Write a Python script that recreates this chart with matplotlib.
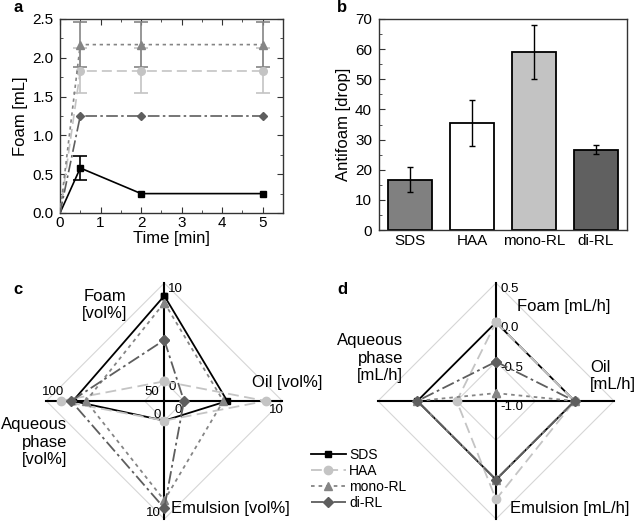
import numpy as np
import matplotlib
matplotlib.use("Agg")
import matplotlib.pyplot as plt
from matplotlib.ticker import MultipleLocator

plt.rcParams['font.family'] = ['Liberation Sans', 'DejaVu Sans']

# ---------------- data ----------------
series = ['SDS', 'HAA', 'mono-RL', 'di-RL']

# panel a: foam vs time
time_min = [0, 0.5, 2, 5]
foam_sds = [0, 0.58, 0.25, 0.25]
foam_sds_err = [0, 0.15, 0, 0]
foam_haa = [0, 1.83, 1.83, 1.83]
foam_haa_err = [0, 0.29, 0.29, 0.29]
foam_mono = [0, 2.17, 2.17, 2.17]
foam_mono_err = [0, 0.29, 0.29, 0.29]
foam_di = [0, 1.25, 1.25, 1.25]
foam_di_err = [0, 0, 0, 0]

# panel b: antifoam
antifoam = [16.7, 35.4, 59.0, 26.7]
antifoam_err = [4.2, 7.6, 8.9, 1.5]

# panel c: phase distribution [vol%]; axes: Foam, Oil, Emulsion, Aqueous
c_axis_min = [-2, -2, -2, 40]
c_axis_max = [10, 10, 10, 100]
c_ticks = [[0, 10], [0, 10], [0, 10], [50, 100]]
c_sds = [8.7, 4.4, 0.0, 86.5]
c_haa = [0.0, 8.3, 0.0, 92.7]
c_mono = [8.0, 4.0, 8.1, 79.8]
c_di = [4.2, 0.0, 8.9, 87.4]

# panel d: rates [mL/h]; axes: Foam, Oil, Emulsion, Aqueous
d_axis_min = [-1.0, -1.0, -1.0, -1.0]
d_axis_max = [0.5, 0.5, 0.5, 0.5]
d_ticks = [-1.0, -0.5, 0.0, 0.5]
d_sds = [0.0, 0.0, 0.0, 0.0]
d_haa = [0.0, 0.0, 0.25, -0.5]
d_mono = [-0.9, 0.0, 0.0, 0.0]
d_di = [-0.5, 0.0, 0.0, 0.0]

# ---------------- styles ----------------
colors = ['#000000', '#c4c4c4', '#858585', '#5e5e5e']
lstyles = ['-', (0, (6, 3)), (0, (2, 2.2)), (0, (7, 2, 1.5, 2))]
markers = ['s', 'o', '^', 'D']
msizes = [4.5, 6, 6, 5]

W, Hf = 638, 521
fig = plt.figure(figsize=(W / 100, Hf / 100), dpi=100)


def P(x, y):
    return x / W, 1 - y / Hf


spine_col = '#333333'

# ---------------- panel a ----------------
axa = fig.add_axes([60 / W, 1 - 213 / Hf, 223 / W, 194 / Hf])
ya = [foam_sds, foam_haa, foam_mono, foam_di]
ea = [foam_sds_err, foam_haa_err, foam_mono_err, foam_di_err]
for i in range(4):
    axa.plot(time_min, ya[i], color=colors[i], ls=lstyles[i], lw=1.2,
             marker=markers[i], ms=msizes[i] - 0.5, markevery=[1, 2, 3], zorder=3)
    t = np.array(time_min)
    y = np.array(ya[i])
    e = np.array(ea[i])
    m = e > 0
    if m.any():
        axa.errorbar(t[m], y[m], yerr=e[m], fmt='none', ecolor=colors[i],
                     elinewidth=1.2, capsize=4.8, capthick=1.2, zorder=2)
axa.set_xlim(0, 5.5)
axa.set_ylim(0, 2.5)
axa.xaxis.set_major_locator(MultipleLocator(1))
axa.xaxis.set_minor_locator(MultipleLocator(0.5))
axa.yaxis.set_major_locator(MultipleLocator(0.5))
axa.yaxis.set_minor_locator(MultipleLocator(0.25))
axa.tick_params(which='both', direction='in', top=True, right=True, color=spine_col)
axa.tick_params(which='major', length=4, labelsize=11)
axa.tick_params(which='minor', length=2)
axa.tick_params(axis='x', pad=2)
axa.tick_params(axis='y', pad=4.5)
axa.set_xlabel('Time [min]', fontsize=12, labelpad=1)
axa.set_ylabel('Foam [mL]', fontsize=12, labelpad=3)
for s in axa.spines.values():
    s.set_color(spine_col)
    s.set_linewidth(1.0)

# ---------------- panel b ----------------
axb = fig.add_axes([379 / W, 1 - 230 / Hf, 248 / W, 211 / Hf])
xb = np.arange(1, 5)
bar_cols = ['#808080', '#ffffff', '#c3c3c3', '#606060']
axb.bar(xb, antifoam, width=0.71, color=bar_cols, edgecolor='black', linewidth=1.3, zorder=2)
axb.errorbar(xb, antifoam, yerr=antifoam_err, fmt='none', ecolor='black',
             elinewidth=1.0, capsize=2.2, capthick=1.0, zorder=3)
axb.set_xlim(0.5, 4.5)
axb.set_ylim(0, 70)
axb.set_xticks(xb)
axb.set_xticklabels(series)
axb.yaxis.set_major_locator(MultipleLocator(10))
axb.yaxis.set_minor_locator(MultipleLocator(5))
axb.tick_params(which='both', direction='in', color=spine_col)
axb.tick_params(which='major', length=4, labelsize=11)
axb.tick_params(which='minor', length=2)
axb.tick_params(axis='x', pad=3)
axb.tick_params(axis='y', pad=5)
axb.set_ylabel('Antifoam [drop]', fontsize=12, labelpad=3)
for s in axb.spines.values():
    s.set_color(spine_col)
    s.set_linewidth(1.0)

# ---------------- radar helper ----------------
dirs = np.array([[0, 1], [1, 0], [0, -1], [-1, 0]], dtype=float)


def radar_axes(cx, cy, R, half=140):
    ax = fig.add_axes([(cx - half) / W, 1 - (cy + half) / Hf, 2 * half / W, 2 * half / Hf])
    lim = half / R
    ax.set_xlim(-lim, lim)
    ax.set_ylim(-lim, lim)
    ax.axis('off')
    return ax


def to_xy(vals, vmin, vmax):
    r = (np.array(vals, float) - np.array(vmin, float)) / (np.array(vmax, float) - np.array(vmin, float))
    pts = dirs * r[:, None]
    return np.vstack([pts, pts[:1]])


def draw_frame(ax, grid_r):
    for gr in grid_r:
        g = dirs * gr
        g = np.vstack([g, g[:1]])
        ax.plot(g[:, 0], g[:, 1], color='#d6d6d6', lw=0.8, zorder=1, clip_on=False)
    ax.plot([0, 0], [-1, 1], color='black', lw=1.5, zorder=2, clip_on=False)
    ax.plot([-1, 1], [0, 0], color='black', lw=1.5, zorder=2, clip_on=False)


def draw_series(ax, data, vmin, vmax):
    handles = []
    for i, vals in enumerate(data):
        xy = to_xy(vals, vmin, vmax)
        h, = ax.plot(xy[:, 0], xy[:, 1], color=colors[i], ls=lstyles[i], lw=1.3,
                     marker=markers[i], ms=msizes[i], zorder=3 + i, clip_on=False)
        handles.append(h)
    return handles


# ---------------- panel c ----------------
axc = radar_axes(164.3, 401, 118)
r0 = (0 - c_axis_min[0]) / (c_axis_max[0] - c_axis_min[0])
draw_frame(axc, [r0, 1.0])
handles = draw_series(axc, [c_sds, c_haa, c_mono, c_di], c_axis_min, c_axis_max)
lab_off = [((4, -6), 'left'), ((-6, -9), 'center'), ((-3, 6), 'right'), ((7, 9), 'center')]
for k in range(4):
    for tv in c_ticks[k]:
        r = (tv - c_axis_min[k]) / (c_axis_max[k] - c_axis_min[k])
        (dx, dy), ha = lab_off[k]
        axc.annotate(str(tv), xy=tuple(dirs[k] * r), xytext=(dx, dy), textcoords='offset pixels',
                     ha=ha, va='center', fontsize=9.5, annotation_clip=False)

fig.text(*P(105, 305), 'Foam\n[vol%]', ha='center', va='center', fontsize=12, linespacing=1.15)
fig.text(*P(252, 382), 'Oil [vol%]', ha='left', va='center', fontsize=12)
fig.text(*P(67, 442), 'Aqueous\nphase\n[vol%]', ha='right', va='center', fontsize=12,
         multialignment='right', linespacing=1.2)
fig.text(*P(171, 508), 'Emulsion [vol%]', ha='left', va='center', fontsize=12)

# ---------------- panel d ----------------
axd = radar_axes(496, 401, 118)
grid_d = [(t - d_axis_min[0]) / (d_axis_max[0] - d_axis_min[0]) for t in d_ticks[1:]]
draw_frame(axd, grid_d)
draw_series(axd, [d_sds, d_haa, d_mono, d_di], d_axis_min, d_axis_max)
for tv in d_ticks:
    r = (tv - d_axis_min[0]) / (d_axis_max[0] - d_axis_min[0])
    axd.annotate(f'{tv:.1f}', xy=(0, r), xytext=(4, -6), textcoords='offset pixels',
                 ha='left', va='center', fontsize=9.5, annotation_clip=False)

fig.text(*P(517, 306), 'Foam [mL/h]', ha='left', va='center', fontsize=12)
fig.text(*P(590, 376), 'Oil\n[mL/h]', ha='left', va='center', fontsize=12,
         multialignment='left', linespacing=1.15)
fig.text(*P(403, 358), 'Aqueous\nphase\n[mL/h]', ha='right', va='center', fontsize=12,
         multialignment='right', linespacing=1.2)
fig.text(*P(510, 508), 'Emulsion [mL/h]', ha='left', va='center', fontsize=12)

# ---------------- legend ----------------
fig.legend(handles, series, loc='center left', bbox_to_anchor=P(311, 479), frameon=False,
           fontsize=10, handlelength=2.5, handletextpad=0.25, labelspacing=0.15,
           borderpad=0, borderaxespad=0, numpoints=1)

# ---------------- panel letters ----------------
for (x, y), s in zip([(13, 8), (337, 8), (13, 290), (337, 290)], 'abcd'):
    fig.text(*P(x, y), s, ha='left', va='center', fontsize=12, fontweight='bold')

fig.savefig('out.png', dpi=100)
